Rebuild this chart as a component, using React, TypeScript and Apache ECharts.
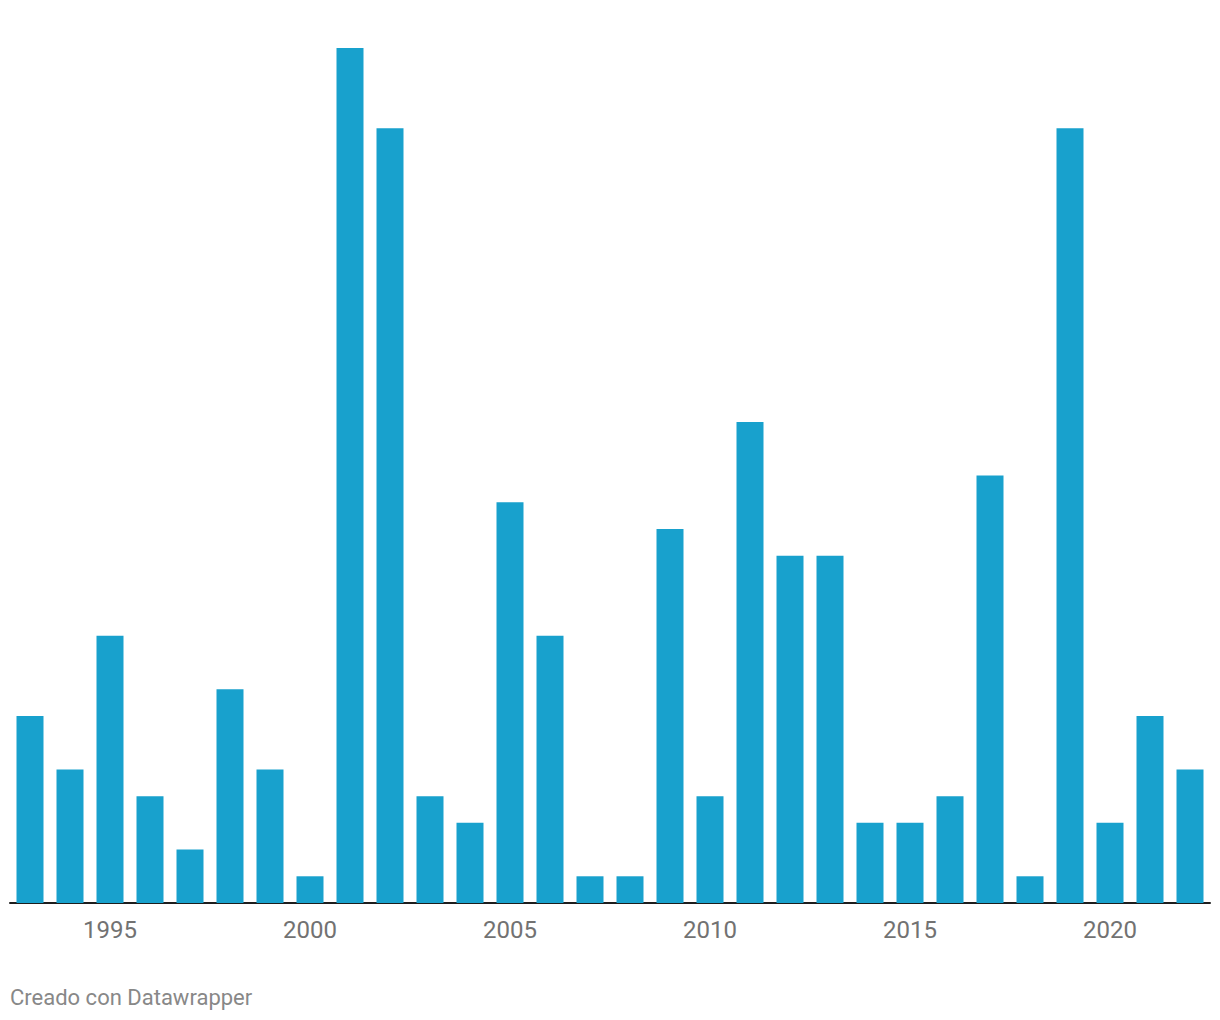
import React, { useEffect, useRef } from "react";
import * as echarts from "echarts";

const years: string[] = [
  "1993", "1994", "1995", "1996", "1997", "1998", "1999", "2000", "2001", "2002",
  "2003", "2004", "2005", "2006", "2007", "2008", "2009", "2010", "2011", "2012",
  "2013", "2014", "2015", "2016", "2017", "2018", "2019", "2020", "2021", "2022",
];
const values: number[] = [
  7, 5, 10, 4, 2, 8, 5, 1, 32, 29,
  4, 3, 15, 10, 1, 1, 14, 4, 18, 13,
  13, 3, 3, 4, 16, 1, 29, 3, 7, 5,
];
const shownTicks: string[] = ["1995", "2000", "2005", "2010", "2015", "2020"];
const footer = "Creado con Datawrapper";

export default function App() {
  const ref = useRef<HTMLDivElement>(null);
  useEffect(() => {
    if (!ref.current) return;
    const chart = echarts.init(ref.current, undefined, { renderer: "svg" });
    chart.setOption({
      animation: false,
      grid: { left: 2, right: 2, top: 40, bottom: 109, containLabel: false },
      xAxis: {
        type: "category",
        data: years,
        axisLine: { show: true, lineStyle: { color: "#1d1d1d", width: 2 } },
        axisTick: { show: false },
        axisLabel: {
          interval: (_i: number, v: string) => shownTicks.includes(v),
          color: "#727272",
          fontFamily: "Roboto",
          fontSize: 24,
          margin: 15,
        },
        splitLine: { show: false },
      },
      yAxis: {
        type: "value",
        min: 0,
        max: 32,
        show: false,
        splitLine: { show: false },
      },
      series: [
        {
          type: "bar",
          data: values,
          barWidth: 27,
          itemStyle: { color: "#18a1cd" },
        },
      ],
      graphic: [
        {
          type: "text",
          left: 2,
          top: 978,
          style: {
            text: footer,
            font: "22px Roboto",
            fill: "#888888",
          },
        },
      ],
    });
    return () => chart.dispose();
  }, []);
  return <div ref={ref} style={{ width: 1204, height: 1004 }} />;
}
